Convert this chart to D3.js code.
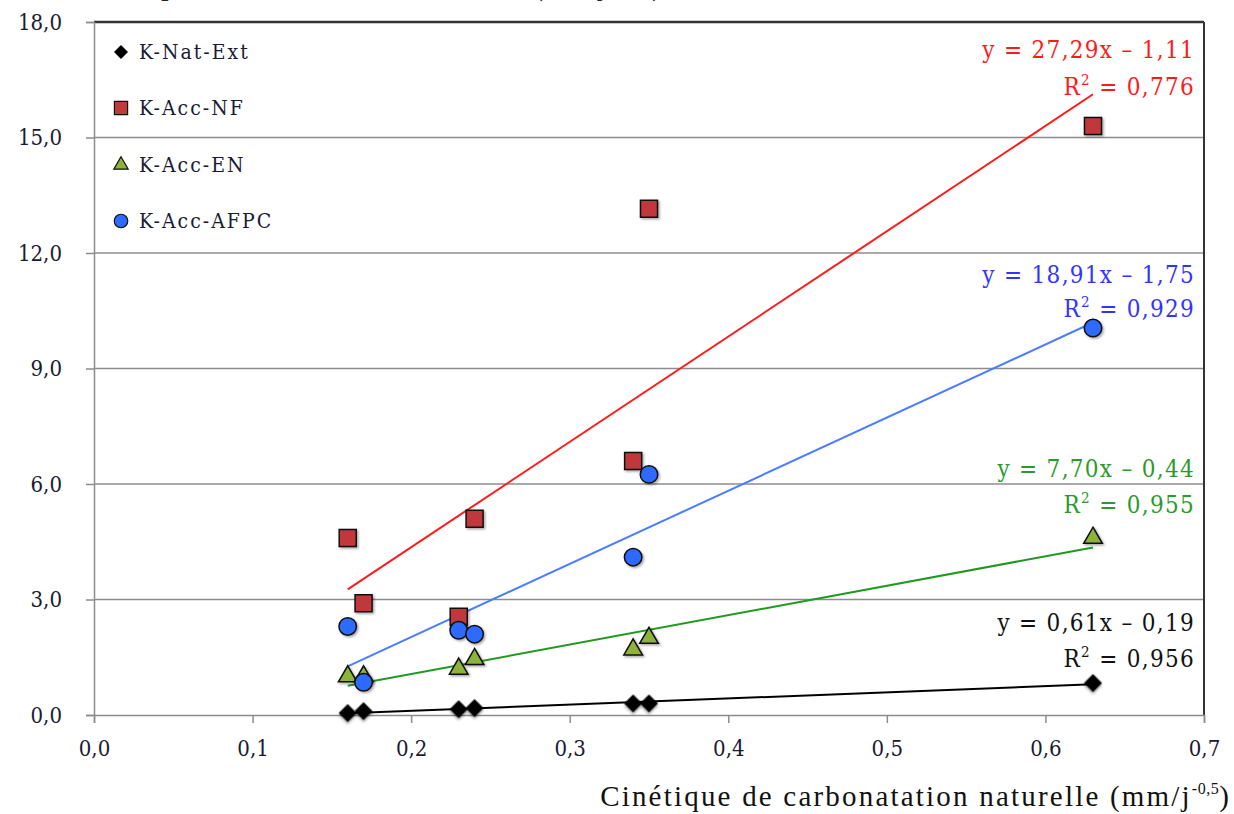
<!DOCTYPE html>
<html><head><meta charset="utf-8">
<script src="https://cdn.jsdelivr.net/npm/d3@7"></script>
<style>html,body{margin:0;padding:0;background:#fff;}svg{display:block;}</style>
</head><body>
<script>
const xValues = [0.16, 0.17, 0.23, 0.24, 0.34, 0.35, 0.63];
const seriesNames = ["K-Nat-Ext", "K-Acc-NF", "K-Acc-EN", "K-Acc-AFPC"];
const natExt  = [0.05, 0.10, 0.15, 0.18, 0.30, 0.30, 0.83];
const accNF   = [4.60, 2.90, 2.55, 5.10, 6.60, 13.15, 15.30];
const accEN   = [1.00, 1.00, 1.20, 1.45, 1.70, 2.00, 4.60];
const accAFPC = [2.30, 0.85, 2.20, 2.10, 4.10, 6.25, 10.05];
const eqLabels = ["y = 0,61x – 0,19", "y = 27,29x – 1,11", "y = 7,70x – 0,44", "y = 18,91x – 1,75"];
const r2Labels = ["0,956", "0,776", "0,955", "0,929"];
const xTicks = [0, 0.1, 0.2, 0.3, 0.4, 0.5, 0.6, 0.7];
const yTicks = [0, 3, 6, 9, 12, 15, 18];

const W = 1234, H = 814;
const svg = d3.select("body").append("svg").attr("width", W).attr("height", H);
const x = d3.scaleLinear().domain([0, 0.7]).range([94, 1204]);
const y = d3.scaleLinear().domain([0, 18]).range([715, 22]);
const fmt = v => d3.format(".1f")(v).replace(".", ",");
const FONT = "DejaVu Serif Condensed, DejaVu Serif";

const defs = svg.append("defs");
const f = defs.append("filter").attr("id", "sh").attr("x", "-50%").attr("y", "-50%").attr("width", "200%").attr("height", "200%");
f.append("feDropShadow").attr("dx", 1.5).attr("dy", 1.5).attr("stdDeviation", 1.2).attr("flood-color", "#000").attr("flood-opacity", 0.35);

// cut-off title at top (only descender tips visible, as in reference)
svg.append("text").attr("x", 80).attr("y", -4)
  .attr("font-family", "Liberation Serif").attr("font-size", 26).attr("font-weight", "bold").attr("fill", "#222")
  .attr("letter-spacing", 1)
  .text("Cinétique de carbonatation accélérée (mm/j-0,5)");

// gridlines
svg.append("g").selectAll("line").data(yTicks.filter(d => d > 0)).join("line")
  .attr("x1", x(0)).attr("x2", x(0.7)).attr("y1", d => y(d)).attr("y2", d => y(d))
  .attr("stroke", "#8c8c8c").attr("stroke-width", 1.5);
// top and right border
svg.append("line").attr("x1", x(0)).attr("x2", x(0.7)).attr("y1", y(18)).attr("y2", y(18)).attr("stroke", "#333").attr("stroke-width", 2.5);
svg.append("line").attr("x1", x(0.7)).attr("x2", x(0.7)).attr("y1", y(18)).attr("y2", y(0)).attr("stroke", "#333").attr("stroke-width", 2);

// axes
const xAxis = svg.append("g").attr("transform", `translate(0,${y(0)})`)
  .call(d3.axisBottom(x).tickValues(xTicks).tickFormat(fmt).tickSize(8).tickPadding(17));
const yAxis = svg.append("g").attr("transform", `translate(${x(0)},0)`)
  .call(d3.axisLeft(y).tickValues(yTicks).tickFormat(fmt).tickSize(8).tickPadding(24));
[xAxis, yAxis].forEach(a => {
  a.select(".domain").attr("stroke", "#8c8c8c").attr("stroke-width", 1.5);
  a.selectAll(".tick line").attr("stroke", "#8c8c8c").attr("stroke-width", 1.5);
  a.selectAll("text").attr("font-family", FONT).attr("font-size", 22).attr("fill", "#1a1a33");
});

// axis title
const at = svg.append("text").attr("x", 1231).attr("y", 806).attr("text-anchor", "end")
  .attr("font-family", "Liberation Serif").attr("font-size", 29).attr("fill", "#111").attr("letter-spacing", 2.2);
at.append("tspan").text("Cinétique de carbonatation naturelle (mm/j");
at.append("tspan").attr("dy", -12).attr("font-size", 16).attr("letter-spacing", 0.5).text("-0,5");
at.append("tspan").attr("dy", 12).text(")");

const allData = [natExt, accNF, accEN, accAFPC];
const lineColors = ["#000000", "#ff1a1a", "#1f9a1f", "#4a7dff"];
const textColors = ["#111111", "#ff1a1a", "#2a9a2a", "#3333ff"];
const fills = ["#000000", "#c0393b", "#8db33a", "#2f6bff"];
const symbols = [d3.symbolSquare, d3.symbolSquare, d3.symbolTriangle, d3.symbolCircle];
const rotations = [45, 0, 0, 0];
const sizes = [150, 290, 150, 240];

// least-squares trend lines from the data
allData.forEach((s, i) => {
  const mx = d3.mean(xValues), my = d3.mean(s);
  const sxy = d3.sum(xValues, (xv, k) => (xv - mx) * (s[k] - my));
  const sxx = d3.sum(xValues, xv => (xv - mx) ** 2);
  const a = sxy / sxx, b = my - a * mx;
  const x0 = d3.min(xValues), x1 = d3.max(xValues);
  svg.append("line")
    .attr("x1", x(x0)).attr("y1", y(a * x0 + b))
    .attr("x2", x(x1)).attr("y2", y(a * x1 + b))
    .attr("stroke", lineColors[i]).attr("stroke-width", 2);
});

// points
const order = [1, 2, 3, 0];
order.forEach(i => {
  svg.append("g").selectAll("path").data(allData[i]).join("path")
    .attr("transform", (d, k) => `translate(${x(xValues[k])},${y(d)}) rotate(${rotations[i]})`)
    .attr("d", d3.symbol().type(symbols[i]).size(sizes[i]))
    .attr("fill", fills[i]).attr("stroke", "#111").attr("stroke-width", i === 0 ? 0.5 : 1.5)
    .attr("filter", "url(#sh)");
});

// legend
const legY = [52, 108, 165, 221];
seriesNames.forEach((n, i) => {
  const g = svg.append("g").attr("transform", `translate(0,${legY[i]})`);
  g.append("path").attr("transform", `translate(121,0) rotate(${rotations[i]})`)
    .attr("d", d3.symbol().type(symbols[i]).size(sizes[i] * 0.6))
    .attr("fill", fills[i]).attr("stroke", "#111").attr("stroke-width", i === 0 ? 0.5 : 1.2);
  g.append("text").attr("x", 139).attr("y", 7).attr("font-family", FONT).attr("font-size", 21)
    .attr("letter-spacing", 2).attr("fill", "#1a1a33").text(n);
});

// equation labels
const eqY = [[631, 667], [58, 95], [477, 513], [283, 317]];
allData.forEach((s, i) => {
  svg.append("text").attr("x", 1195).attr("y", eqY[i][0]).attr("text-anchor", "end")
    .attr("font-family", FONT).attr("font-size", 24).attr("letter-spacing", 1.3)
    .attr("fill", textColors[i]).text(eqLabels[i]);
  const t2 = svg.append("text").attr("x", 1195).attr("y", eqY[i][1]).attr("text-anchor", "end")
    .attr("font-family", FONT).attr("font-size", 24).attr("letter-spacing", 1.3).attr("fill", textColors[i]);
  t2.append("tspan").text("R");
  t2.append("tspan").attr("dy", -10).attr("font-size", 15).text("2");
  t2.append("tspan").attr("dy", 10).text(" = " + r2Labels[i]);
});
</script>
</body></html>
